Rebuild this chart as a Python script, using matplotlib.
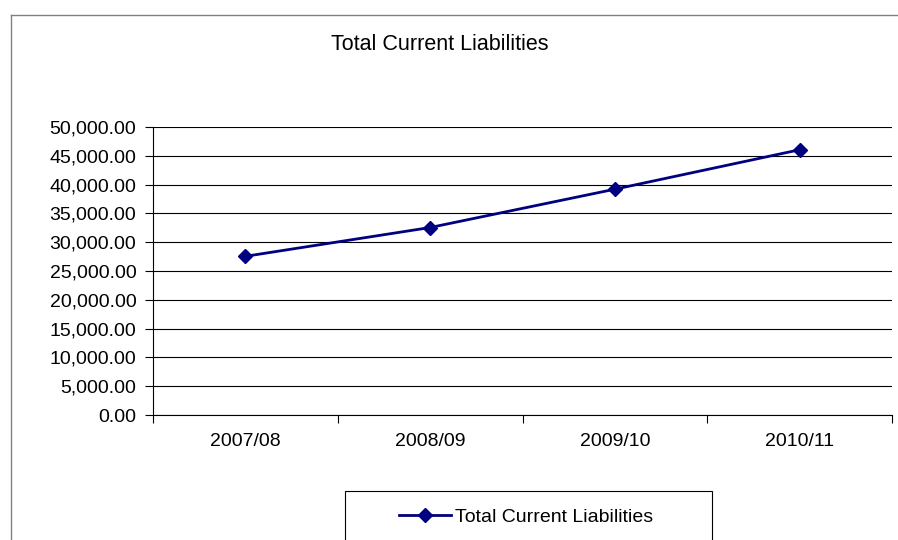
import matplotlib
matplotlib.use("Agg")
import matplotlib.pyplot as plt
from matplotlib.patches import Rectangle
from matplotlib.lines import Line2D
from matplotlib.ticker import FuncFormatter, MultipleLocator

plt.rcParams['font.family'] = ['Liberation Sans', 'DejaVu Sans']

years = ['2007/08', '2008/09', '2009/10', '2010/11']
liabilities = [27550, 32550, 39200, 46050]
series_name = 'Total Current Liabilities'

W, H = 898, 540
fig = plt.figure(figsize=(W / 100, H / 100), dpi=100)
ax = fig.add_axes([153 / W, 1 - 415 / H, (892 - 153) / W, (415 - 127) / H])

x = range(len(years))
ax.plot(x, liabilities, color='#000080', lw=2, marker='D', ms=7, label=series_name)

ax.set_xlim(-0.5, len(years) - 0.5)
ax.set_ylim(0, 50000)
ax.yaxis.set_major_locator(MultipleLocator(5000))
ax.yaxis.set_major_formatter(FuncFormatter(lambda v, p: f'{v:,.2f}'))
ax.set_xticks(list(x))
ax.set_xticklabels(years)
ax.set_xticks([i - 0.5 for i in range(len(years) + 1)], minor=True)
ax.tick_params(axis='x', which='major', length=0, pad=13, labelsize=14)
ax.tick_params(axis='x', which='minor', length=6, width=0.8, direction='out')
ax.tick_params(axis='y', length=6, width=0.8, direction='out', pad=6, labelsize=14)
ax.yaxis.grid(True, color='black', lw=0.8)
ax.set_axisbelow(True)
for s in ['top', 'right']:
    ax.spines[s].set_visible(False)
for s in ['left', 'bottom']:
    ax.spines[s].set_linewidth(0.8)

fig.text(440 / W, 1 - 44 / H, series_name, ha='center', va='center', fontsize=15.5)

# outer chart border (cut off at right and bottom)
fig.add_artist(Line2D([11 / W, 11 / W], [0, 1 - 15 / H], color='#808080', lw=1))
fig.add_artist(Line2D([11 / W, 1], [1 - 15 / H, 1 - 15 / H], color='#808080', lw=1))

# legend box
fig.add_artist(Rectangle((345 / W, -0.1), (712 - 345) / W, 0.1 + 1 - 491 / H,
                         transform=fig.transFigure, fill=False, ec='black', lw=0.8))
fig.legend(loc='center', bbox_to_anchor=(526 / W, 1 - 517 / H), frameon=False,
           fontsize=14, handlelength=2.7, handletextpad=0.2)

fig.savefig('out.png', dpi=100)
